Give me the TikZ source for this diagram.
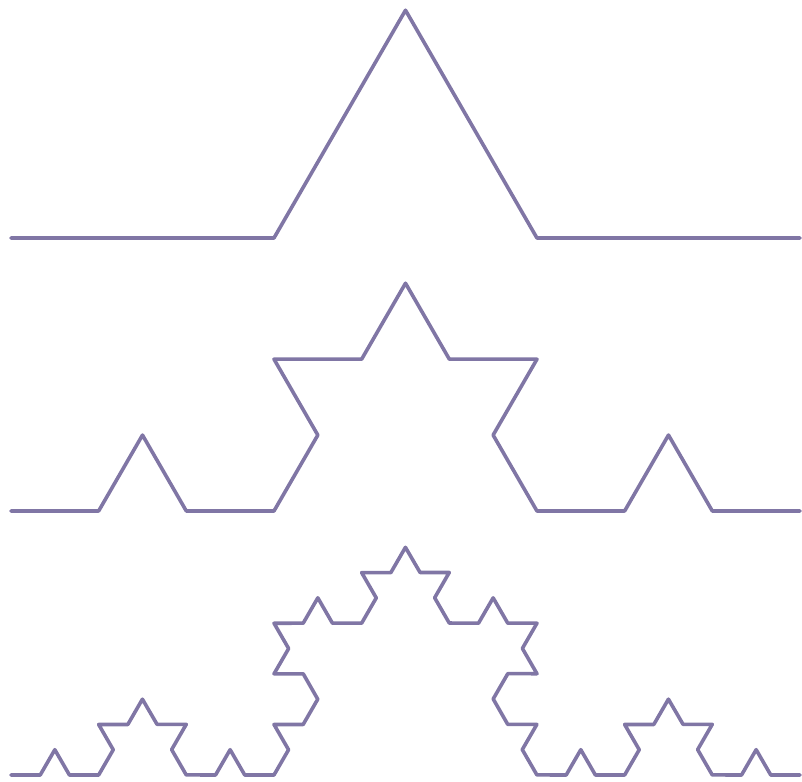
\documentclass[tikz,border=0pt]{standalone}
\usetikzlibrary{decorations.fractals}
\definecolor{kochline}{RGB}{128,118,165}
\tikzset{kochpath/.style={draw=kochline, line width=3.6pt, line join=round, line cap=round, decoration=Koch snowflake}}
\begin{document}
\begin{tikzpicture}[x=1pt,y=-1pt]
\useasboundingbox (0,0) rectangle (802,781);
\coordinate (a1) at (11,238);
\coordinate (b1) at (800,238);
\coordinate (a2) at (11,511);
\coordinate (b2) at (800,511);
\coordinate (a3) at (11,775);
\coordinate (b3) at (800,775);
\draw[kochpath] decorate{ (a1) -- (b1) };
\draw[kochpath] decorate{ decorate{ (a2) -- (b2) }};
\draw[kochpath] decorate{ decorate{ decorate{ (a3) -- (b3) }}};
\end{tikzpicture}
\end{document}
